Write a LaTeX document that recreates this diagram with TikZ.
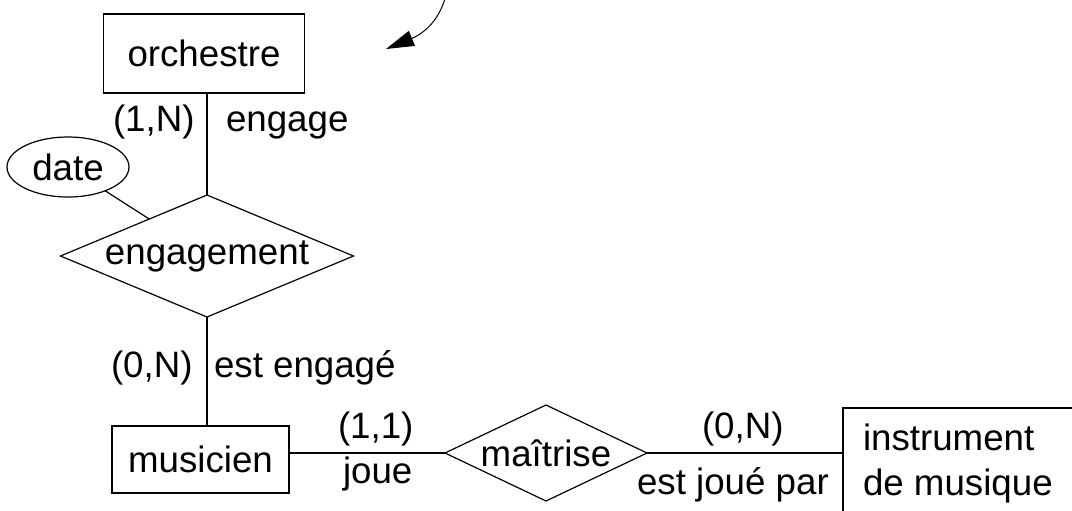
\documentclass[tikz,border=0pt]{standalone}
\usepackage{fontspec}
\setmainfont{Liberation Sans}
\usetikzlibrary{shapes.geometric,arrows.meta}
\begin{document}
\begin{tikzpicture}[x=0.5pt,y=-0.5pt,
  every node/.style={font=\fontsize{18.35pt}{22.5pt}\selectfont, inner sep=0pt, outer sep=0pt},
  ent/.style={draw, line width=0.6pt, rectangle},
  rel/.style={draw, line width=0.6pt, diamond},
  attr/.style={draw, line width=0.6pt, ellipse},
  conn/.style={line width=0.6pt},
  lbl/.style={anchor=base west}
]
\useasboundingbox (0,0) rectangle (1072,510);
\clip (0,0) rectangle (1072,510);

\node[ent, minimum width=100.5pt, minimum height=39.5pt] (orch) at (204,53.5) {orchestre};
\node[rel, minimum width=146.5pt, minimum height=61pt, label=center:engagement] (eng) at (207,256) {};
\node[attr, minimum width=61pt, minimum height=30pt] (date) at (68,167) {date};
\node[ent, minimum width=88.5pt, minimum height=33.5pt] (mus) at (200.5,459.5) {musicien};
\node[rel, minimum width=101pt, minimum height=48pt, label=center:maîtrise] (mai) at (546,453) {};
\node[ent, anchor=north west, minimum width=150pt, minimum height=80pt] (inst) at (843,408) {};
\node[anchor=base west, align=left] (insttxt) at (863,495) {instrument\\de musique};

\draw[conn] (orch.south -| eng.north) -- (eng.north);
\draw[conn] (date) -- (eng);
\draw[conn] (eng.south) -- (eng.south |- mus.north);
\draw[conn] (mus.east |- mai.west) -- (mai.west);
\draw[conn] (mai.east) -- (mai.east -| inst.west);

\node[lbl] (l1) at (113,131) {(1,N)};
\node[lbl] (l2) at (226,131) {engage};
\node[lbl] (l3) at (111,377) {(0,N)};
\node[lbl] (l4) at (214,377) {est engagé};
\node[lbl] (l5) at (338,438) {(1,1)};
\node[lbl] (l6) at (343,483) {joue};
\node[lbl] (l7) at (702,438) {(0,N)};
\node[lbl] (l8) at (637,494) {est joué par};

\coordinate (arrS) at (447,-10);
\coordinate (arrE) at (386,49);
\draw[line width=0.5pt, -{Triangle[length=14pt, width=8pt]}] (arrS) .. controls (442,18) and (425,33) .. (arrE);
\end{tikzpicture}
\end{document}
